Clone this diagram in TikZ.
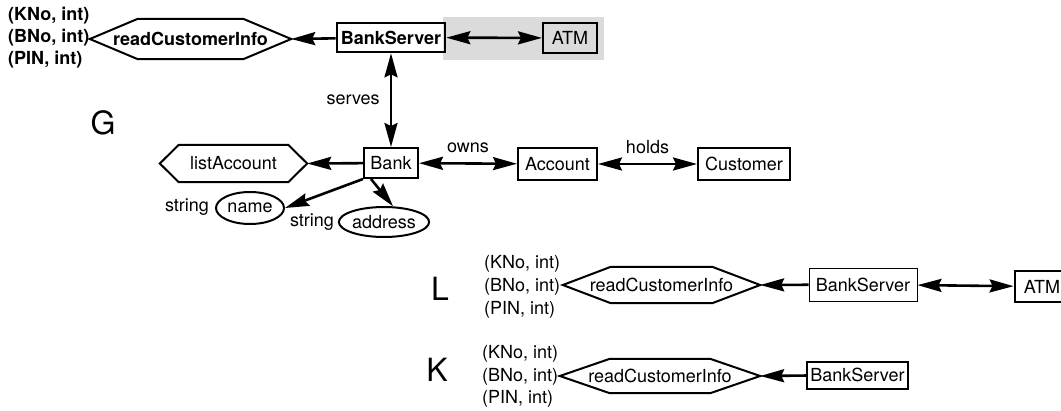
\documentclass[tikz,border=0pt]{standalone}
\usepackage{fontspec}
\setmainfont{TeX Gyre Heros}
\usetikzlibrary{arrows.meta,shapes.geometric}
\definecolor{panel}{gray}{0.86}
% outline of a stretched hexagon round a (borderless) node
\newcommand\hexframe[2]{%
  \draw[hexline] (#1.west) -- ([xshift=#2]#1.north west) -- ([xshift=-#2]#1.north east)
    -- (#1.east) -- ([xshift=-#2]#1.south east) -- ([xshift=#2]#1.south west) -- cycle;}
\begin{document}
\begin{tikzpicture}[x=1pt,y=-1pt,
  every node/.style={font=\fontsize{18}{21}\selectfont, inner sep=0pt},
  boldtext/.style={font=\fontsize{18}{21}\selectfont\bfseries},
  box/.style={draw, rectangle, line width=2pt},
  hexnode/.style={rectangle, draw=none},
  hexline/.style={line width=2pt, line join=miter},
  oval/.style={draw, ellipse, line width=2pt},
  tip/.tip={Stealth[length=24pt,width=13pt,inset=3pt]},
  conn/.style={line width=2.6pt, -tip},
  both/.style={line width=2.6pt, tip-tip},
  param/.style={anchor=west},
  graphname/.style={font=\fontsize{32}{36}\selectfont}]
\useasboundingbox (0,0) rectangle (1061,410);

% ---------------- graph G ----------------
\fill[panel] (443,17) rectangle (604,60);

\node[graphname] (G) at (103,123) {G};

\node[box, boldtext, line width=2.6pt, minimum width=108pt, minimum height=29pt] (bsG) at (391,37.5) {BankServer};
\node[box, minimum width=54pt, minimum height=30pt] (atmG) at (570,38) {ATM};
\node[hexnode, boldtext, minimum width=201pt, minimum height=40pt] (rciG) at (190.5,39) {readCustomerInfo};
\hexframe{rciG}{48pt}
\node[param, boldtext] (kG) at (8,16) {(KNo, int)};
\node[param, boldtext] (bG) at (8,38) {(BNo, int)};
\node[param, boldtext] (pG) at (8,60) {(PIN, int)};

\node[box, minimum width=54pt, minimum height=30pt] (bank) at (391,163) {Bank};
\node[box, minimum width=79pt, minimum height=32pt] (account) at (557.5,164) {Account};
\node[box, minimum width=92pt, minimum height=32pt] (customer) at (744,164) {Customer};
\node[hexnode, minimum width=147pt, minimum height=37pt] (list) at (233.5,163.5) {listAccount};
\hexframe{list}{19pt}
\node[oval, minimum width=68pt, minimum height=32pt] (name) at (250,208) {name};
\node[oval, minimum width=85pt, minimum height=30pt] (address) at (384,222) {address};
\node (s1) at (187,207) {string};
\node (s2) at (312,222) {string};

\draw[conn] (bsG) -- (rciG.east);
\draw[both] (bsG) -- (atmG);
\draw[both] (bsG) -- node[left=10pt] {serves} (bank);
\draw[both] (bank) -- node[above=9pt] {owns} (account);
\draw[both] (account) -- node[above=9pt] {holds} (customer);
\draw[conn] (bank) -- (list.east);
\draw[conn] (bank.south west) -- (name.east);
\draw[conn] ([xshift=8pt]bank.south west) -- (address.60);

% ---------------- graph L ----------------
\node[graphname] (L) at (440,289) {L};
\node[hexnode, minimum width=197pt, minimum height=36pt] (rciL) at (661.5,285) {readCustomerInfo};
\hexframe{rciL}{48pt}
\node[param] (kL) at (484,264) {(KNo, int)};
\node[param] (bL) at (484,287) {(BNo, int)};
\node[param] (pL) at (484,310) {(PIN, int)};
\node[draw, line width=1pt, minimum width=108pt, minimum height=33pt] (bsL) at (863,284.5) {BankServer};
\node[box, line width=2.8pt, minimum width=54pt, minimum height=31pt] (atmL) at (1042,286.5) {ATM};
\draw[conn] (bsL) -- (rciL.east);
\draw[both] (bsL) -- (atmL);

% ---------------- graph K ----------------
\node[graphname] (K) at (437,370) {K};
\node[hexnode, minimum width=200pt, minimum height=34pt] (rciK) at (660,376) {readCustomerInfo};
\hexframe{rciK}{50pt}
\node[param] (kK) at (482,354) {(KNo, int)};
\node[param] (bK) at (482,377) {(BNo, int)};
\node[param] (pK) at (482,399) {(PIN, int)};
\node[box, minimum width=101pt, minimum height=27pt] (bsK) at (857.5,375) {BankServer};
\draw[conn] (bsK) -- (rciK.east);
\end{tikzpicture}
\end{document}
